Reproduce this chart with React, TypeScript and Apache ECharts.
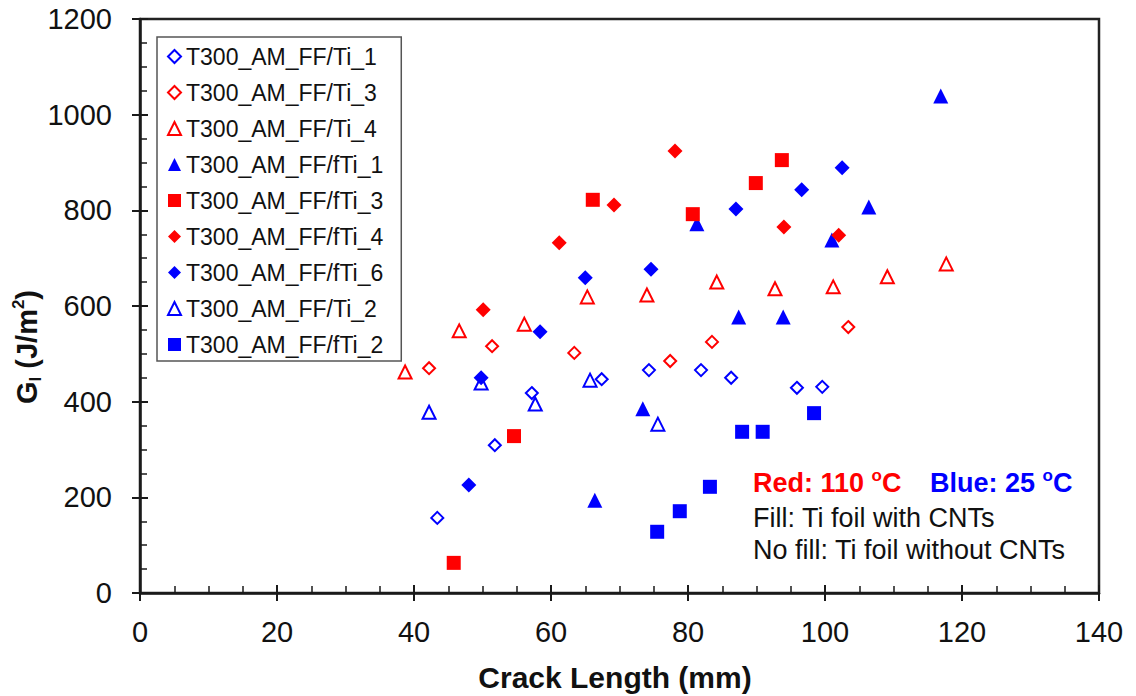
import React, { useEffect, useRef } from "react";
import * as echarts from "echarts";

const FONT = '"Liberation Sans", Arial, Helvetica, sans-serif';
const RED = "#ff0000";
const BLUE = "#0000ff";
const INK = "#111111";

// [crack length (mm), G_I (J/m^2)]
const ti1 = [[43.4, 157], [51.8, 309], [57.2, 418], [67.4, 447], [74.3, 466], [81.9, 466], [86.3, 450], [95.9, 429], [99.6, 431]];
const ti3 = [[42.2, 470], [51.4, 516], [63.4, 502], [77.4, 485], [83.5, 525], [103.4, 556]];
const ti4 = [[38.7, 462], [46.6, 548], [56.1, 562], [65.3, 619], [74.0, 623], [84.2, 650], [92.7, 636], [101.2, 640], [109.1, 661], [117.7, 688]];
const fti1 = [[66.4, 194], [73.4, 385], [81.3, 772], [87.4, 577], [93.9, 577], [101.0, 738], [106.4, 807], [116.9, 1039]];
const fti3 = [[45.8, 63], [54.6, 328], [66.1, 822], [80.7, 792], [89.9, 857], [93.7, 905]];
const fti4 = [[50.1, 592], [61.2, 732], [69.2, 811], [78.1, 924], [94.0, 765], [102.0, 748]];
const fti6 = [[48.0, 226], [49.8, 450], [58.4, 546], [65.0, 659], [74.6, 677], [87.0, 803], [96.6, 843], [102.5, 889]];
const ti2 = [[42.2, 378], [49.8, 439], [57.7, 395], [65.7, 445], [75.6, 353]];
const fti2 = [[75.5, 128], [78.8, 171], [83.2, 222], [87.9, 337], [90.9, 337], [98.4, 376]];

const seriesNames = [
  "T300_AM_FF/Ti_1",
  "T300_AM_FF/Ti_3",
  "T300_AM_FF/Ti_4",
  "T300_AM_FF/fTi_1",
  "T300_AM_FF/fTi_3",
  "T300_AM_FF/fTi_4",
  "T300_AM_FF/fTi_6",
  "T300_AM_FF/Ti_2",
  "T300_AM_FF/fTi_2",
];
const seriesData = [ti1, ti3, ti4, fti1, fti3, fti4, fti6, ti2, fti2];
const seriesSymbols = ["diamond", "diamond", "triangle", "triangle", "rect", "diamond", "diamond", "triangle", "rect"];
const seriesColors = [BLUE, RED, RED, BLUE, RED, RED, BLUE, BLUE, BLUE];
const seriesOpen = [true, true, true, false, false, false, false, true, false];

const xMin = 0, xMax = 140, xStep = 20;
const yMin = 0, yMax = 1200, yStep = 200;

export default function App() {
  const ref = useRef<HTMLDivElement>(null);
  useEffect(() => {
    if (!ref.current) return;
    const chart = echarts.init(ref.current, undefined, { renderer: "svg" });

    const series = seriesNames.map((name, i) => {
      const open = seriesOpen[i];
      const sym = seriesSymbols[i];
      const size = open ? (sym === "triangle" ? 13 : 12) : sym === "rect" ? 14 : 15;
      return {
        type: "scatter",
        name,
        data: seriesData[i],
        xAxisIndex: 0,
        yAxisIndex: 0,
        symbol: sym,
        symbolSize: size,
        itemStyle: open
          ? { color: "rgba(255,255,255,0)", borderColor: seriesColors[i], borderWidth: 2, opacity: 1 }
          : { color: seriesColors[i], borderWidth: 0, opacity: 1 },
        emphasis: { disabled: true },
      };
    });

    const tickLabel = { fontSize: 29, color: INK, fontFamily: FONT, formatter: (v: number) => String(v) };
    const lineStyle = { color: "#1a1a1a", width: 2.5 };
    const tickLine = { color: "#1a1a1a", width: 2 };
    const minorLine = { color: "#1a1a1a", width: 1.5 };

    const sup = (fill: string) => ({
      fontSize: 17,
      fontWeight: "bold",
      fontFamily: FONT,
      fill,
      verticalAlign: "top",
      lineHeight: 18,
    });
    const main = (fill: string) => ({
      fontSize: 27,
      fontWeight: "bold",
      fontFamily: FONT,
      fill,
      lineHeight: 32,
    });

    chart.setOption({
      animation: false,
      backgroundColor: "#ffffff",
      grid: {
        left: 140,
        right: 37,
        top: 19,
        bottom: 103,
        show: true,
        borderColor: "#222",
        borderWidth: 2.5,
        backgroundColor: "transparent",
      },
      xAxis: [
        {
          type: "value",
          min: xMin,
          max: xMax,
          interval: xStep,
          position: "bottom",
          axisLine: { show: true, onZero: false, lineStyle },
          axisTick: { show: true, length: 8, lineStyle: tickLine },
          axisLabel: { ...tickLabel, margin: 24 },
          splitLine: { show: false },
        },
        {
          type: "value",
          min: xMin,
          max: xMax,
          interval: xStep,
          position: "bottom",
          axisLine: { show: false, onZero: false },
          axisTick: { show: true, inside: true, length: 8, lineStyle: tickLine },
          minorTick: { show: true, splitNumber: 4, length: 7, lineStyle: minorLine },
          axisLabel: { show: false },
          splitLine: { show: false },
        },
      ],
      yAxis: [
        {
          type: "value",
          min: yMin,
          max: yMax,
          interval: yStep,
          position: "left",
          axisLine: { show: true, onZero: false, lineStyle },
          axisTick: { show: true, length: 8, lineStyle: tickLine },
          axisLabel: { ...tickLabel, margin: 28 },
          splitLine: { show: false },
        },
        {
          type: "value",
          min: yMin,
          max: yMax,
          interval: yStep,
          position: "left",
          axisLine: { show: false, onZero: false },
          axisTick: { show: true, inside: true, length: 8, lineStyle: tickLine },
          minorTick: { show: true, splitNumber: 4, length: 7, lineStyle: minorLine },
          axisLabel: { show: false },
          splitLine: { show: false },
        },
      ],
      legend: {
        orient: "vertical",
        left: 157,
        top: 37,
        padding: [8, 18, 5, 10],
        itemGap: 13,
        itemWidth: 13,
        itemHeight: 13,
        borderColor: "#555",
        borderWidth: 1.5,
        backgroundColor: "#ffffff",
        selectedMode: false,
        textStyle: { fontSize: 23, color: INK, fontFamily: FONT, lineHeight: 23 },
        data: seriesNames.map((n, i) => ({ name: n, icon: seriesSymbols[i] })),
      },
      graphic: [
        {
          type: "text",
          x: 27,
          y: 347,
          rotation: Math.PI / 2,
          style: {
            text: "{b|G}{s|I}{b| (J/m}{p|2}{b|)}",
            align: "center",
            verticalAlign: "middle",
            rich: {
              b: { fontSize: 29, fontWeight: "bold", fontFamily: FONT, fill: INK, lineHeight: 34 },
              s: { fontSize: 17, fontWeight: "bold", fontFamily: FONT, fill: INK, verticalAlign: "bottom", lineHeight: 18 },
              p: { fontSize: 17, fontWeight: "bold", fontFamily: FONT, fill: INK, verticalAlign: "top", lineHeight: 18 },
            },
          },
        },
        {
          type: "text",
          x: 615,
          y: 677,
          style: {
            text: "Crack Length (mm)",
            align: "center",
            verticalAlign: "middle",
            fontSize: 30,
            fontWeight: "bold",
            fontFamily: FONT,
            fill: INK,
          },
        },
        {
          type: "text",
          x: 753,
          y: 483,
          style: {
            text: "{m|Red: 110 }{s|o}{m|C}",
            align: "left",
            verticalAlign: "middle",
            rich: { m: main(RED), s: sup(RED) },
          },
        },
        {
          type: "text",
          x: 930,
          y: 483,
          style: {
            text: "{m|Blue: 25 }{s|o}{m|C}",
            align: "left",
            verticalAlign: "middle",
            rich: { m: main(BLUE), s: sup(BLUE) },
          },
        },
        {
          type: "text",
          x: 753,
          y: 518,
          style: {
            text: "Fill: Ti foil with CNTs",
            align: "left",
            verticalAlign: "middle",
            fontSize: 27,
            fontFamily: FONT,
            fill: INK,
          },
        },
        {
          type: "text",
          x: 753,
          y: 550,
          style: {
            text: "No fill: Ti foil without CNTs",
            align: "left",
            verticalAlign: "middle",
            fontSize: 27,
            fontFamily: FONT,
            fill: INK,
          },
        },
      ],
      series,
    });
    return () => chart.dispose();
  }, []);

  return (
    <div
      ref={ref}
      style={{ position: "absolute", left: 0, top: 0, width: 1136, height: 696, background: "#fff" }}
    />
  );
}
